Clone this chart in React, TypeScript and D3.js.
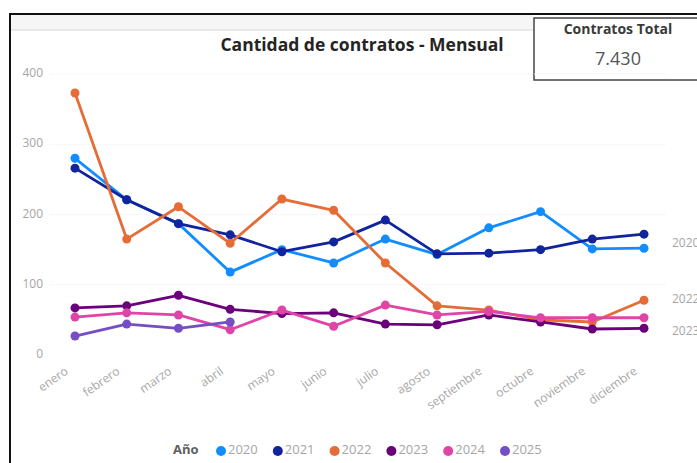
import React from "react";
import * as d3 from "d3";

const WIDTH = 697;
const HEIGHT = 463;

const months = [
  "enero", "febrero", "marzo", "abril", "mayo", "junio",
  "julio", "agosto", "septiembre", "octubre", "noviembre", "diciembre",
];

const years = ["2020", "2021", "2022", "2023", "2024", "2025"];
const colors = ["#118DFF", "#12239E", "#E66C37", "#6B007B", "#E044A7", "#744EC2"];

const v2020 = [280, 221, 187, 118, 150, 131, 165, 143, 181, 204, 151, 152];
const v2021 = [266, 221, 187, 171, 147, 161, 192, 144, 145, 150, 165, 172];
const v2022 = [373, 165, 211, 159, 222, 206, 131, 70, 64, 50, 47, 78];
const v2023 = [67, 70, 85, 65, 59, 60, 44, 43, 57, 47, 37, 38];
const v2024 = [54, 60, 57, 36, 64, 41, 71, 57, 62, 53, 53, 53];
const v2025 = [27, 44, 38, 47, null, null, null, null, null, null, null, null];

const yTicks = [0, 100, 200, 300, 400];
const endLabels = ["2020", "2022", "2023"];

const series = [v2020, v2021, v2022, v2023, v2024, v2025];

const App = () => {
  const x = d3.scalePoint<string>().domain(months).range([75, 644]);
  const y = d3.scaleLinear().domain([0, 400]).range([355, 74]);

  const line = d3
    .line<number | null>()
    .defined((d) => d !== null)
    .x((_, i) => x(months[i]) as number)
    .y((d) => y(d as number));

  const font = "'Open Sans', 'DejaVu Sans', sans-serif";

  return (
    <svg
      width={WIDTH}
      height={HEIGHT}
      style={{ position: "absolute", left: 0, top: 0, background: "#fff" }}
      fontFamily={font}
    >
      {/* frame */}
      <rect x={10} y={14} width={WIDTH} height={HEIGHT} fill="#fff" stroke="#111" strokeWidth={2} />
      <rect x={11} y={15} width={522} height={15} fill="#f6f6f6" />
      <line x1={11} x2={533} y1={30} y2={30} stroke="#d6d6d6" />

      {/* title */}
      <text x={362} y={51} textAnchor="middle" fontSize={17.5} fontWeight={700} fill="#252423">
        Cantidad de contratos - Mensual
      </text>

      {/* card */}
      <rect x={534} y={18} width={170} height={62} fill="#fff" stroke="#444" strokeWidth={1.5} />
      <text x={618} y={34} textAnchor="middle" fontSize={14} fontWeight={700} fill="#3a3a3a">
        Contratos Total
      </text>
      <text x={618} y={65} textAnchor="middle" fontSize={18} fill="#555">
        7.430
      </text>

      {/* gridlines + y labels */}
      {yTicks.map((t) => (
        <g key={t}>
          {t > 0 && (
            <line x1={50} x2={665} y1={y(t)} y2={y(t)} stroke="#eeeeee" strokeDasharray="1 1" />
          )}
          <text x={43} y={y(t)} textAnchor="end" dominantBaseline="middle" fontSize={12} fill="#a6a6a6">
            {t}
          </text>
        </g>
      ))}

      {/* x labels */}
      {months.map((m) => (
        <text
          key={m}
          transform={`translate(${(x(m) as number) - 6}, 373) rotate(-35)`}
          textAnchor="end"
          fontSize={12}
          fill="#a6a6a6"
        >
          {m}
        </text>
      ))}

      {/* lines */}
      {series.map((s, i) => (
        <g key={years[i]}>
          <path d={line(s) ?? ""} fill="none" stroke={colors[i]} strokeWidth={2.8} strokeLinejoin="round" />
          {s.map((d, j) =>
            d === null ? null : (
              <circle key={j} cx={x(months[j])} cy={y(d)} r={4.5} fill={colors[i]} />
            )
          )}
        </g>
      ))}

      {/* end labels */}
      {endLabels.map((lab) => {
        const idx = years.indexOf(lab);
        const last = series[idx][11] as number;
        return (
          <text key={lab} x={672} y={y(last) + (lab === "2022" ? 0 : lab === "2023" ? 3 : -4)} dominantBaseline="middle" fontSize={12} fill="#a6a6a6">
            {lab}
          </text>
        );
      })}

      {/* legend */}
      <g transform="translate(173, 451)">
        <text x={0} y={0} dominantBaseline="middle" fontSize={13} fontWeight={700} fill="#605E5C">
          Año
        </text>
        {years.map((yr, i) => (
          <g key={yr} transform={`translate(${48 + i * 56.8}, 0)`}>
            <circle cx={0} cy={0} r={5} fill={colors[i]} />
            <text x={7} y={0} dominantBaseline="middle" fontSize={13} fill="#a6a6a6">
              {yr}
            </text>
          </g>
        ))}
      </g>
    </svg>
  );
};

export default App;
